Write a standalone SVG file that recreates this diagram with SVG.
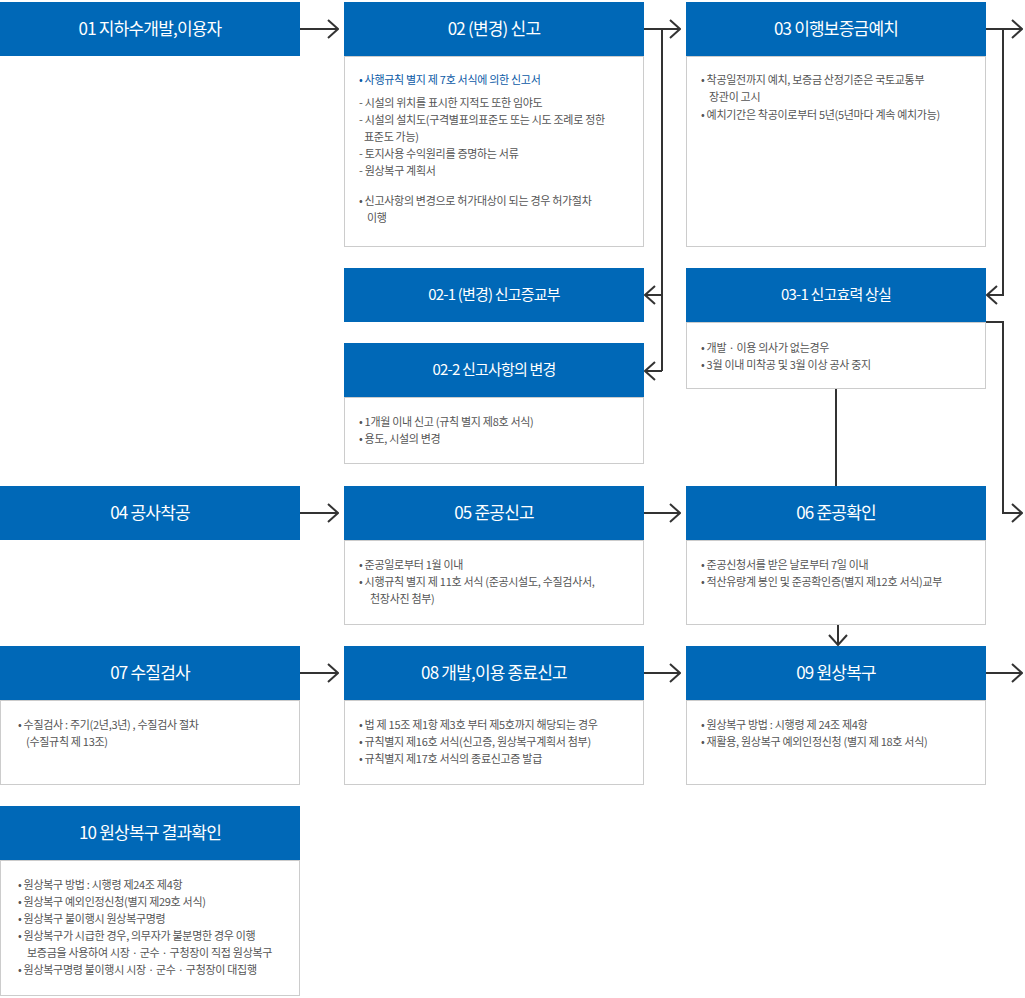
<svg xmlns="http://www.w3.org/2000/svg" width="1025" height="998" viewBox="0 0 1025 998">
<defs>
<marker id="ch" viewBox="0 0 12 20" refX="11" refY="10" markerWidth="12" markerHeight="20" markerUnits="userSpaceOnUse" orient="auto"><path d="M1,1 L11,10 L1,19" fill="none" stroke="#333" stroke-width="2"/></marker>
</defs>
<style>
.h{fill:#0068b7}
.b{fill:#fff;stroke:#ccc;stroke-width:1}
.ht{font-family:"Noto Sans CJK KR","Noto Sans",sans-serif;font-size:17px;fill:#fff;text-anchor:middle;letter-spacing:-0.8px}
.hs{font-size:15px}
.t{font-family:"Noto Sans CJK KR","Noto Sans",sans-serif;font-size:11px;fill:#555;letter-spacing:-0.3px}
.bl{fill:#0b5aa6}
.c{fill:none;stroke:#333;stroke-width:2}
</style>
<rect width="1025" height="998" fill="#fff"/>
<g id="n01"><rect class="h" x="0" y="2" width="300" height="54"/><text class="ht" x="150" y="35">01 지하수개발,이용자</text></g>
<g id="n02"><rect class="b" x="344.5" y="56.5" width="299" height="190"/><rect class="h" x="344" y="2" width="300" height="54"/><text class="ht" x="494" y="35">02 (변경) 신고</text>
<text class="t bl" x="359" y="84">• 사행규칙 별지 제 7호 서식에 의한 신고서</text>
<text class="t" x="359" y="107">- 시설의 위치를 표시한 지적도 또한 임야도</text>
<text class="t" x="359" y="124">- 시설의 설치도(구격별표의표준도 또는 시도 조례로 정한</text>
<text class="t" x="364" y="141">표준도 가능)</text>
<text class="t" x="359" y="158">- 토지사용 수익원리를 증명하는 서류</text>
<text class="t" x="359" y="175">- 원상복구 계획서</text>
<text class="t" x="359" y="205">• 신고사항의 변경으로 허가대상이 되는 경우 허가절차</text>
<text class="t" x="367" y="222">이행</text></g>
<g id="n03"><rect class="b" x="686.5" y="56.5" width="299" height="190"/><rect class="h" x="686" y="2" width="300" height="54"/><text class="ht" x="836" y="35">03 이행보증금예치</text>
<text class="t" x="701" y="84">• 착공일전까지 예치, 보증금 산정기준은 국토교통부</text>
<text class="t" x="709" y="101">장관이 고시</text>
<text class="t" x="701" y="119">• 예치기간은 착공이로부터 5년(5년마다 계속 예치가능)</text></g>
<g id="n021"><rect class="h" x="344" y="268" width="300" height="54"/><text class="ht hs" x="494" y="300">02-1 (변경) 신고증교부</text></g>
<g id="n031"><rect class="b" x="686.5" y="322.5" width="299" height="66"/><rect class="h" x="686" y="268" width="300" height="54"/><text class="ht hs" x="836" y="300">03-1 신고효력 상실</text>
<text class="t" x="701" y="352">• 개발 · 이용 의사가 없는경우</text>
<text class="t" x="701" y="369">• 3월 이내 미착공 및 3월 이상 공사 중지</text></g>
<g id="n022"><rect class="b" x="344.5" y="397.5" width="299" height="66"/><rect class="h" x="344" y="343" width="300" height="54"/><text class="ht hs" x="494" y="375">02-2 신고사항의 변경</text>
<text class="t" x="359" y="426">• 1개월 이내 신고 (규칙 별지 제8호 서식)</text>
<text class="t" x="359" y="443">• 용도, 시설의 변경</text></g>
<g id="n04"><rect class="h" x="0" y="486" width="300" height="54"/><text class="ht" x="150" y="519">04 공사착공</text></g>
<g id="n05"><rect class="b" x="344.5" y="540.5" width="299" height="84"/><rect class="h" x="344" y="486" width="300" height="54"/><text class="ht" x="494" y="519">05 준공신고</text>
<text class="t" x="359" y="569">• 준공일로부터 1월 이내</text>
<text class="t" x="359" y="586">• 시행규칙 별지 제 11호 서식 (준공시설도, 수질검사서,</text>
<text class="t" x="370" y="603">천장사진 첨부)</text></g>
<g id="n06"><rect class="b" x="686.5" y="540.5" width="299" height="84"/><rect class="h" x="686" y="486" width="300" height="54"/><text class="ht" x="836" y="519">06 준공확인</text>
<text class="t" x="701" y="569">• 준공신청서를 받은 날로부터 7일 이내</text>
<text class="t" x="701" y="586">• 적산유량계 봉인 및 준공확인증(별지 제12호 서식)교부</text></g>
<g id="n07"><rect class="b" x="0.5" y="700.5" width="299" height="84"/><rect class="h" x="0" y="646" width="300" height="54"/><text class="ht" x="150" y="679">07 수질검사</text>
<text class="t" x="18" y="729">• 수질검사 : 주기(2년,3년) , 수질검사 절차</text>
<text class="t" x="26" y="746">(수질규칙 제 13조)</text></g>
<g id="n08"><rect class="b" x="344.5" y="700.5" width="299" height="84"/><rect class="h" x="344" y="646" width="300" height="54"/><text class="ht" x="494" y="679">08 개발,이용 종료신고</text>
<text class="t" x="359" y="729">• 법 제 15조 제1항 제3호 부터 제5호까지 해당되는 경우</text>
<text class="t" x="359" y="746">• 규칙별지 제16호 서식(신고증, 원상복구계획서 첨부)</text>
<text class="t" x="359" y="763">• 규칙별지 제17호 서식의 종료신고증 발급</text></g>
<g id="n09"><rect class="b" x="686.5" y="700.5" width="299" height="84"/><rect class="h" x="686" y="646" width="300" height="54"/><text class="ht" x="836" y="679">09 원상복구</text>
<text class="t" x="701" y="729">• 원상복구 방법 : 시행령 제 24조 제4항</text>
<text class="t" x="701" y="746">• 재활용, 원상복구 예외인정신청 (별지 제 18호 서식)</text></g>
<g id="n10"><rect class="b" x="0.5" y="860.5" width="299" height="135"/><rect class="h" x="0" y="806" width="300" height="54"/><text class="ht" x="150" y="839">10 원상복구 결과확인</text>
<text class="t" x="18" y="889">• 원상복구 방법 : 시행령 제24조 제4항</text>
<text class="t" x="18" y="906">• 원상복구 예외인정신청(별지 제29호 서식)</text>
<text class="t" x="18" y="923">• 원상복구 불이행시 원상복구명령</text>
<text class="t" x="18" y="940">• 원상복구가 시급한 경우, 의무자가 불분명한 경우 이행</text>
<text class="t" x="27" y="957">보증금을 사용하여 시장 · 군수 · 구청장이 직접 원상복구</text>
<text class="t" x="18" y="974">• 원상복구명령 불이행시 시장 · 군수 · 구청장이 대집행</text></g>
<g id="connectors">
<path class="c" d="M300,29 H338" marker-end="url(#ch)"/>
<path class="c" d="M644,29 H680" marker-end="url(#ch)"/>
<path class="c" d="M662,29 V371"/>
<path class="c" d="M662,295 H645" marker-end="url(#ch)"/>
<path class="c" d="M662,371 H645" marker-end="url(#ch)"/>
<path class="c" d="M986,29 H1022" marker-end="url(#ch)"/>
<path class="c" d="M1003,29 V295 H987" marker-end="url(#ch)"/>
<path class="c" d="M986,322 H1003 V513 H1022" marker-end="url(#ch)"/>
<path class="c" d="M836,389 V486"/>
<path class="c" d="M300,513 H338" marker-end="url(#ch)"/>
<path class="c" d="M644,513 H680" marker-end="url(#ch)"/>
<path class="c" d="M838,625 V645" marker-end="url(#ch)"/>
<path class="c" d="M300,673 H338" marker-end="url(#ch)"/>
<path class="c" d="M644,673 H680" marker-end="url(#ch)"/>
<path class="c" d="M986,673 H1022" marker-end="url(#ch)"/>
</g>
</svg>
